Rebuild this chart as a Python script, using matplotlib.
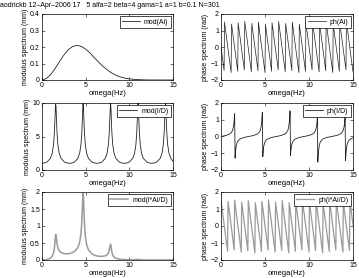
import matplotlib
matplotlib.use("Agg")
import matplotlib.pyplot as plt
from matplotlib.ticker import FuncFormatter

plt.rcParams["font.family"] = ["Liberation Sans", "DejaVu Sans"]
plt.rcParams["font.size"] = 5

title_txt = "aodrickb 12\u2013Apr\u20132006 17   5 alfa=2 beta=4 gama=1 a=1 b=0.1 N=301"

# mod(Ai): smooth bump
omega_ai = [0, 0.5, 1.0, 1.5, 2.0, 2.5, 3.0, 3.5, 4.0, 4.5, 5.0, 5.5, 6.0, 6.5, 7.0,
            7.5, 8.0, 8.5, 9.0, 9.5, 10.0, 10.5, 11.0, 11.5, 12.0, 13.0, 14.0, 15.0]
mod_ai = [0, 0.0088, 0.0335, 0.0698, 0.111, 0.151, 0.183, 0.203, 0.210, 0.204, 0.187,
          0.163, 0.135, 0.107, 0.082, 0.060, 0.042, 0.028, 0.018, 0.011, 0.0069, 0.004,
          0.0022, 0.0012, 0.0006, 0.00016, 0.00003, 0]

# ph(Ai): wrapped phase, vertices of the sawtooth
omega_ph_ai = [0, 0.35, 0.40, 1.15, 1.20, 1.90, 1.95, 2.65, 2.70, 3.45, 3.50, 4.20, 4.25,
               5.00, 5.05, 5.75, 5.80, 6.50, 6.55, 7.30, 7.35, 8.05, 8.10, 8.85, 8.90,
               9.60, 9.65, 10.35, 10.40, 11.15, 11.20, 11.90, 11.95, 12.70, 12.75,
               13.45, 13.50, 14.20, 14.25, 15.0]
ph_ai = [0, -1.43, 1.51, -1.55, 1.39, -1.47, 1.47, -1.39, 1.55, -1.51, 1.43, -1.43, 1.51,
         -1.55, 1.39, -1.47, 1.47, -1.39, 1.55, -1.51, 1.43, -1.43, 1.51, -1.55, 1.39,
         -1.47, 1.47, -1.39, 1.55, -1.51, 1.43, -1.43, 1.51, -1.55, 1.39,
         -1.47, 1.47, -1.39, 1.55, -1.51]

# I/D and i*Ai/D share one frequency list (dense near the resonances)
omega_id = [0, 0.27, 0.57, 0.97, 1.17, 1.32, 1.42, 1.49, 1.55, 1.60, 1.65, 1.72, 1.82, 1.97,
            2.17, 2.57, 2.87, 3.14,
            3.41, 3.71, 4.11, 4.31, 4.46, 4.56, 4.63, 4.70, 4.75, 4.79, 4.86, 4.96, 5.11,
            5.31, 5.71, 6.01, 6.28,
            6.55, 6.85, 7.25, 7.45, 7.60, 7.70, 7.77, 7.85, 7.90, 7.93, 8.00, 8.10, 8.25,
            8.45, 8.85, 9.15, 9.42,
            9.70, 10.00, 10.40, 10.60, 10.75, 10.85, 10.92, 10.95, 11.00, 11.08, 11.15,
            11.25, 11.40, 11.60, 12.00, 12.30, 12.57,
            12.84, 13.14, 13.54, 13.74, 13.89, 13.99, 14.06, 14.10, 14.15, 14.22, 14.29,
            14.39, 14.54, 14.74, 15.0]
mod_id = [1.0, 1.04, 1.19, 1.75, 2.50, 3.76, 5.58, 7.83, 9.79, 9.61, 7.83, 5.58, 3.76, 2.50,
          1.75, 1.19, 1.04, 1.0,
          1.04, 1.19, 1.75, 2.50, 3.76, 5.58, 7.83, 9.93, 9.35, 7.83, 5.58, 3.76, 2.50,
          1.75, 1.19, 1.04, 1.0,
          1.04, 1.19, 1.75, 2.50, 3.76, 5.58, 7.83, 9.99, 9.09, 7.83, 5.58, 3.76, 2.50,
          1.75, 1.19, 1.04, 1.0,
          1.04, 1.19, 1.75, 2.50, 3.76, 5.58, 7.83, 9.09, 9.99, 7.83, 5.58,
          3.76, 2.50, 1.75, 1.19, 1.04, 1.0,
          1.04, 1.19, 1.75, 2.50, 3.76, 5.58, 7.83, 9.38, 9.92, 7.83, 5.58,
          3.76, 2.50, 1.75, 1.31]
ph_id = [0, 0.028, 0.064, 0.145, 0.232, 0.373, 0.584, 0.895, 1.364, -1.289, -0.895, -0.584,
         -0.373, -0.232, -0.145, -0.064, -0.028, 0,
         0.028, 0.064, 0.145, 0.232, 0.373, 0.584, 0.895, 1.451, -1.207, -0.895, -0.584,
         -0.373, -0.232, -0.145, -0.064, -0.028, 0,
         0.028, 0.064, 0.145, 0.232, 0.373, 0.584, 0.895, 1.531, -1.139, -0.895, -0.584,
         -0.373, -0.232, -0.145, -0.064, -0.028, 0,
         0.028, 0.064, 0.145, 0.232, 0.373, 0.584, 0.895, 1.139, -1.531, -0.895, -0.584,
         -0.373, -0.232, -0.145, -0.064, -0.028, 0,
         0.028, 0.064, 0.145, 0.232, 0.373, 0.584, 0.895, 1.216, -1.441, -0.895, -0.584,
         -0.373, -0.232, -0.145, -0.085]
mod_aid = [0, 0.0027, 0.0135, 0.055, 0.112, 0.210, 0.354, 0.540, 0.722, 0.748, 0.642, 0.490,
           0.361, 0.272, 0.219, 0.186, 0.183, 0.190,
           0.209, 0.247, 0.367, 0.519, 0.770, 1.129, 1.568, 1.968, 1.837, 1.528, 1.075,
           0.709, 0.455, 0.302, 0.180, 0.140, 0.120,
           0.109, 0.106, 0.123, 0.154, 0.210, 0.290, 0.388, 0.467, 0.409, 0.345, 0.233,
           0.146, 0.086, 0.051, 0.025, 0.017, 0.012,
           0.0097, 0.0082, 0.0078, 0.0089, 0.0113, 0.0149, 0.0194, 0.0216, 0.0224, 0.0159,
           0.0105, 0.0062, 0.0034, 0.0019, 0.0008, 0.0004, 0.0003,
           0.0002, 0.00015, 0.00012, 0.0001, 0.0001, 0.00013, 0.00015, 0.00018, 0.00018,
           0.00013, 0.0001, 0.00006, 0.00004, 0.00002, 0.00001]

# ph(i*Ai/D): wrapped phase, vertices of the sawtooth
omega_ph_aid = [0, 0.75, 0.80, 1.50, 1.55, 2.30, 2.35, 3.05, 3.10, 3.85, 3.90, 4.60, 4.65,
                5.35, 5.40, 6.15, 6.20, 6.90, 6.95, 7.70, 7.75, 8.45, 8.50, 9.20, 9.25,
                10.00, 10.05, 10.75, 10.80, 11.55, 11.60, 12.30, 12.35, 13.05, 13.10,
                13.85, 13.90, 14.60, 14.65, 15.0]
ph_aid = [1.5, -1.49, 1.45, -1.41, 1.53, -1.53, 1.41, -1.45, 1.49, -1.57, 1.37, -1.49, 1.45,
          -1.41, 1.53, -1.53, 1.41, -1.45, 1.49, -1.57, 1.37, -1.49, 1.45, -1.41, 1.53,
          -1.53, 1.41, -1.45, 1.49, -1.57, 1.37, -1.49, 1.45, -1.41, 1.53,
          -1.53, 1.41, -1.45, 1.49, 0.06]

W, H = 359, 278
fig = plt.figure(figsize=(W / 100, H / 100), dpi=100)


def add_ax(x0, y0, x1, y1):
    # pixel box (top-left origin) -> figure fraction
    return fig.add_axes([x0 / W, 1 - y1 / H, (x1 - x0) / W, (y1 - y0) / H])


def fmt(v, pos):
    return ("%g" % v).replace("-", "\u2212")


def style(ax, ylim, yticks, ylabel, leg):
    ax.set_xlim(0, 15)
    ax.set_xticks([0, 5, 10, 15])
    ax.set_ylim(*ylim)
    ax.set_yticks(yticks)
    ax.yaxis.set_major_formatter(FuncFormatter(fmt))
    ax.tick_params(direction="in", length=2, width=0.4, top=True, right=True,
                   labelsize=5, pad=1.5)
    for s in ax.spines.values():
        s.set_linewidth(0.5)
    ax.set_xlabel("omega(Hz)", fontsize=5.5, labelpad=1)
    ax.set_ylabel(ylabel, fontsize=5, labelpad=1)
    lg = ax.legend([leg[0]], [leg[1]], loc="upper right", fontsize=5, fancybox=False,
                   framealpha=1, edgecolor="black", borderpad=0.3, handlelength=2.6,
                   handletextpad=0.6, borderaxespad=0.35)
    lg.get_frame().set_linewidth(0.5)


cols = [(42, 173), (221, 353)]
rows = [(14, 80), (103, 170), (192, 260)]
dark = "#222222"
grey = "#9a9a9a"

ax = add_ax(cols[0][0], rows[0][0], cols[0][1], rows[0][1])
l, = ax.plot(omega_ai, mod_ai, color=dark, lw=0.6)
style(ax, (0, 0.4), [0, 0.1, 0.2, 0.3, 0.4], "modulus spectrum (mm)", (l, "mod(Ai)"))

ax = add_ax(cols[1][0], rows[0][0], cols[1][1], rows[0][1])
l, = ax.plot(omega_ph_ai, ph_ai, color=dark, lw=0.5)
style(ax, (-2, 2), [-2, -1, 0, 1, 2], "phase spectrum (rad)", (l, "ph(Ai)"))

ax = add_ax(cols[0][0], rows[1][0], cols[0][1], rows[1][1])
l, = ax.plot(omega_id, mod_id, color=dark, lw=0.6)
style(ax, (0, 10), [0, 5, 10], "modulus spectrum (mm)", (l, "mod(I/D)"))

ax = add_ax(cols[1][0], rows[1][0], cols[1][1], rows[1][1])
l, = ax.plot(omega_id, ph_id, color=dark, lw=0.6)
style(ax, (-2, 2), [-2, -1, 0, 1, 2], "phase spectrum (rad)", (l, "ph(I/D)"))

ax = add_ax(cols[0][0], rows[2][0], cols[0][1], rows[2][1])
l, = ax.plot(omega_id, mod_aid, color=grey, lw=1.1)
style(ax, (0, 2), [0, 0.5, 1, 1.5, 2], "modulus spectrum (mm)", (l, "mod(i*Ai/D)"))

ax = add_ax(cols[1][0], rows[2][0], cols[1][1], rows[2][1])
l, = ax.plot(omega_ph_aid, ph_aid, color=grey, lw=0.9)
style(ax, (-2, 2), [-2, -1, 0, 1, 2], "phase spectrum (rad)", (l, "ph(i*Ai/D)"))

fig.text(0.0, 1 - 2 / H, title_txt, fontsize=5, ha="left", va="top")

fig.savefig("out.png", dpi=100)
